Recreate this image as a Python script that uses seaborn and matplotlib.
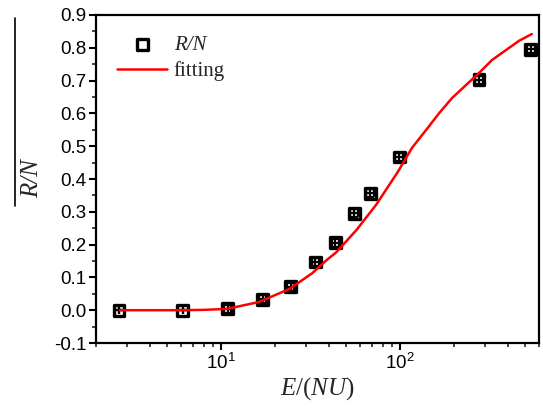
import matplotlib
matplotlib.use("Agg")
import matplotlib.pyplot as plt
import seaborn as sns
import pandas as pd
import numpy as np
from matplotlib.ticker import MultipleLocator, LogLocator, NullFormatter
from matplotlib.lines import Line2D

# data
energy = [2.69, 6.1, 10.9, 17.1, 24.5, 33.7, 43.6, 55.6, 68.4, 99.0, 277.0, 541.0]
ratio = [0.0, 0.0, 0.004, 0.034, 0.071, 0.147, 0.205, 0.296, 0.357, 0.467, 0.702, 0.796]
ratio_err = [0.0, 0.0, 0.012, 0.012, 0.012, 0.012, 0.012, 0.012, 0.012, 0.012, 0.012, 0.012]
energy_err = [0.0, 0.0, 0.5, 0.8, 1.2, 1.6, 2.1, 2.7, 3.3, 4.8, 13.0, 26.0]

fit_x = [2.72, 4.0, 5.9, 8.0, 10.8, 16.3, 24.2, 32.4, 39.0, 44.2, 57.3, 73.6, 97.0,
         117.0, 140.0, 166.0, 196.0, 235.0, 277.0, 328.0, 392.0, 463.0, 547.0]
fit_y = [0.0, 0.0, 0.0, 0.001, 0.004, 0.025, 0.065, 0.113, 0.153, 0.177, 0.245, 0.321, 0.42,
         0.495, 0.549, 0.601, 0.647, 0.687, 0.723, 0.763, 0.793, 0.821, 0.842]

sns.set_theme(style="ticks")
plt.rcParams["font.family"] = ["Liberation Sans", "DejaVu Sans"]
plt.rcParams["mathtext.fontset"] = "custom"
plt.rcParams["mathtext.rm"] = "Liberation Serif"
plt.rcParams["mathtext.it"] = "Liberation Serif:italic"

df_pts = pd.DataFrame({"E": energy, "R": ratio, "err": ratio_err, "xerr": energy_err})
df_fit = pd.DataFrame({"E": fit_x, "R": fit_y})

fig = plt.figure(figsize=(5.43, 4.11), dpi=100)
ax = fig.add_axes([96/543, 1-343/411, (539-96)/543, (343-15)/411])

ax.errorbar(df_pts["E"], df_pts["R"], yerr=df_pts["err"], xerr=df_pts["xerr"], fmt="none",
            ecolor="black", elinewidth=1.6, capsize=3, capthick=1.6, zorder=3)
sns.scatterplot(data=df_pts, x="E", y="R", ax=ax, marker="s", s=62,
                facecolor="none", edgecolor="black", linewidth=2.4,
                label="R/N", zorder=4)
sns.lineplot(data=df_fit, x="E", y="R", ax=ax, color="red", linewidth=1.8,
             label="fitting", zorder=5)

ax.set_xscale("log")
ax.set_xlim(2.0, 600)
ax.set_ylim(-0.1, 0.9)
ax.yaxis.set_major_locator(MultipleLocator(0.1))
ax.yaxis.set_minor_locator(MultipleLocator(0.05))
ax.yaxis.set_major_formatter(matplotlib.ticker.FormatStrFormatter("%.1f"))
ax.xaxis.set_major_locator(LogLocator(base=10))
ax.xaxis.set_minor_locator(LogLocator(base=10, subs=np.arange(2, 10)))
ax.xaxis.set_minor_formatter(NullFormatter())

for s in ax.spines.values():
    s.set_linewidth(1.6)
    s.set_color("black")
ax.tick_params(axis="both", which="major", direction="out", length=5, width=1.5,
               labelsize=13.5, colors="black", pad=2)
ax.tick_params(axis="both", which="minor", direction="out", length=3, width=1.2)

ax.set_xlabel(r"$E/(NU)$", fontsize=18, labelpad=2)
ax.set_ylabel("R/N", fontsize=18, labelpad=8, family="Liberation Serif", style="italic")
# overline of the y label (as drawn in the reference)
fig.add_artist(Line2D([15/543, 15/543], [1-206/411, 1-18/411], color="black",
                      linewidth=1.2, transform=fig.transFigure))

leg = ax.legend(loc="upper left", frameon=False, fontsize=15,
                bbox_to_anchor=(0.02, 0.975), handlelength=2.4, borderaxespad=0.2,
                labelspacing=0.3, handletextpad=0.3)
texts = leg.get_texts()
texts[0].set_family("Liberation Serif")
texts[0].set_style("italic")
texts[1].set_family("Liberation Serif")

fig.savefig("out.png", dpi=100)
